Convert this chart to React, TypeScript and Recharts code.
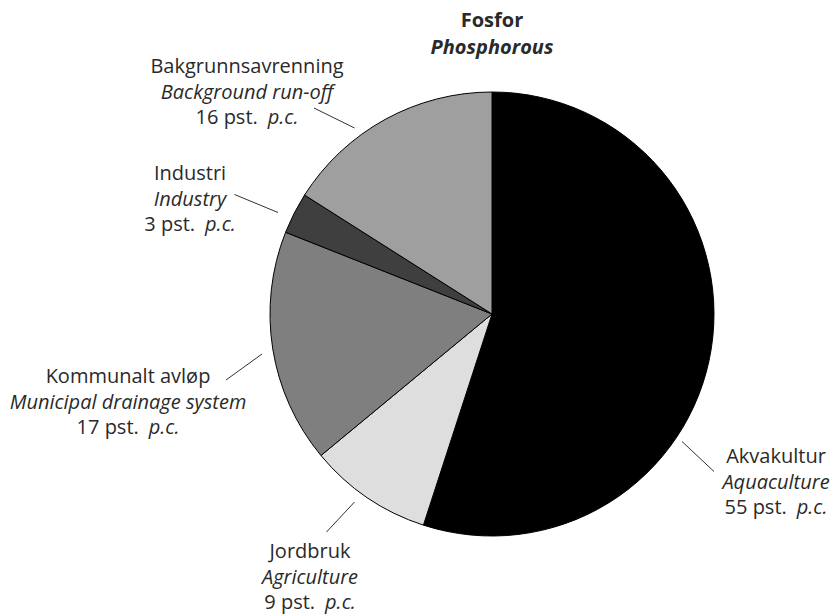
import React from 'react';
import { PieChart, Pie, Cell } from 'recharts';

// Fosfor / Phosphorous – share per source, percent
const names = ['Akvakultur', 'Jordbruk', 'Kommunalt avløp', 'Industri', 'Bakgrunnsavrenning'];
const namesEn = ['Aquaculture', 'Agriculture', 'Municipal drainage system', 'Industry', 'Background run-off'];
const shares = [55, 9, 17, 3, 16];
const colors = ['#000000', '#dedede', '#7f7f7f', '#3f3f3f', '#9f9f9f'];

// leader line ends and text block centre for each slice label
const labelLayout = [
  { x1: 682, y1: 441.5, x2: 714, y2: 471.5, tx: 776, ty: 455 },
  { x1: 354.5, y1: 502, x2: 326.5, y2: 532, tx: 310, ty: 550 },
  { x1: 262, y1: 354, x2: 226, y2: 380, tx: 128, ty: 375 },
  { x1: 278, y1: 212.5, x2: 234.5, y2: 194.5, tx: 190, ty: 172 },
  { x1: 354.5, y1: 128, x2: 314, y2: 108, tx: 247, ty: 65 },
];

const data = names.map((n, i) => ({ name: n, nameEn: namesEn[i], value: shares[i] }));

const FONT = '"Open Sans", "Noto Sans", sans-serif';
const TEXT = '#2a2a2a';

const renderLabel = (props: any) => {
  const { index } = props;
  const l = labelLayout[index];
  const d = data[index];
  return (
    <g key={'lbl' + index}>
      <line x1={l.x1} y1={l.y1} x2={l.x2} y2={l.y2} stroke="#333" strokeWidth={1} />
      <text x={l.tx} textAnchor="middle" fontFamily={FONT} fontSize={20} fill={TEXT} dominantBaseline="central">
        <tspan x={l.tx} y={l.ty}>{d.name}</tspan>
        <tspan x={l.tx} y={l.ty + 25.5} fontStyle="italic">{d.nameEn}</tspan>
        <tspan x={l.tx} y={l.ty + 51}>{d.value + ' pst.'}<tspan dx={10} fontStyle="italic">p.c.</tspan></tspan>
      </text>
    </g>
  );
};

export default function App() {
  return (
    <div style={{ position: 'absolute', left: 0, top: 0, width: 835, height: 616, background: '#fff', overflow: 'hidden' }}>
      <div
        style={{
          position: 'absolute', left: 392, top: 6, width: 200, textAlign: 'center',
          fontFamily: FONT, fontSize: 20, fontWeight: 'bold', color: TEXT, lineHeight: '27px',
        }}
      >
        <div>Fosfor</div>
        <div style={{ fontStyle: 'italic' }}>Phosphorous</div>
      </div>
      <PieChart
        width={835}
        height={616}
        margin={{ top: 0, right: 0, bottom: 0, left: 0 }}
        style={{ position: 'absolute', left: 0, top: 0 }}
      >
        <Pie
          data={data}
          dataKey="value"
          cx={492}
          cy={314}
          outerRadius={222}
          startAngle={90}
          endAngle={-270}
          stroke="#000"
          strokeWidth={1}
          label={renderLabel}
          labelLine={false}
          isAnimationActive={false}
        >
          {data.map((d, i) => (
            <Cell key={d.name} fill={colors[i]} />
          ))}
        </Pie>
      </PieChart>
    </div>
  );
}
